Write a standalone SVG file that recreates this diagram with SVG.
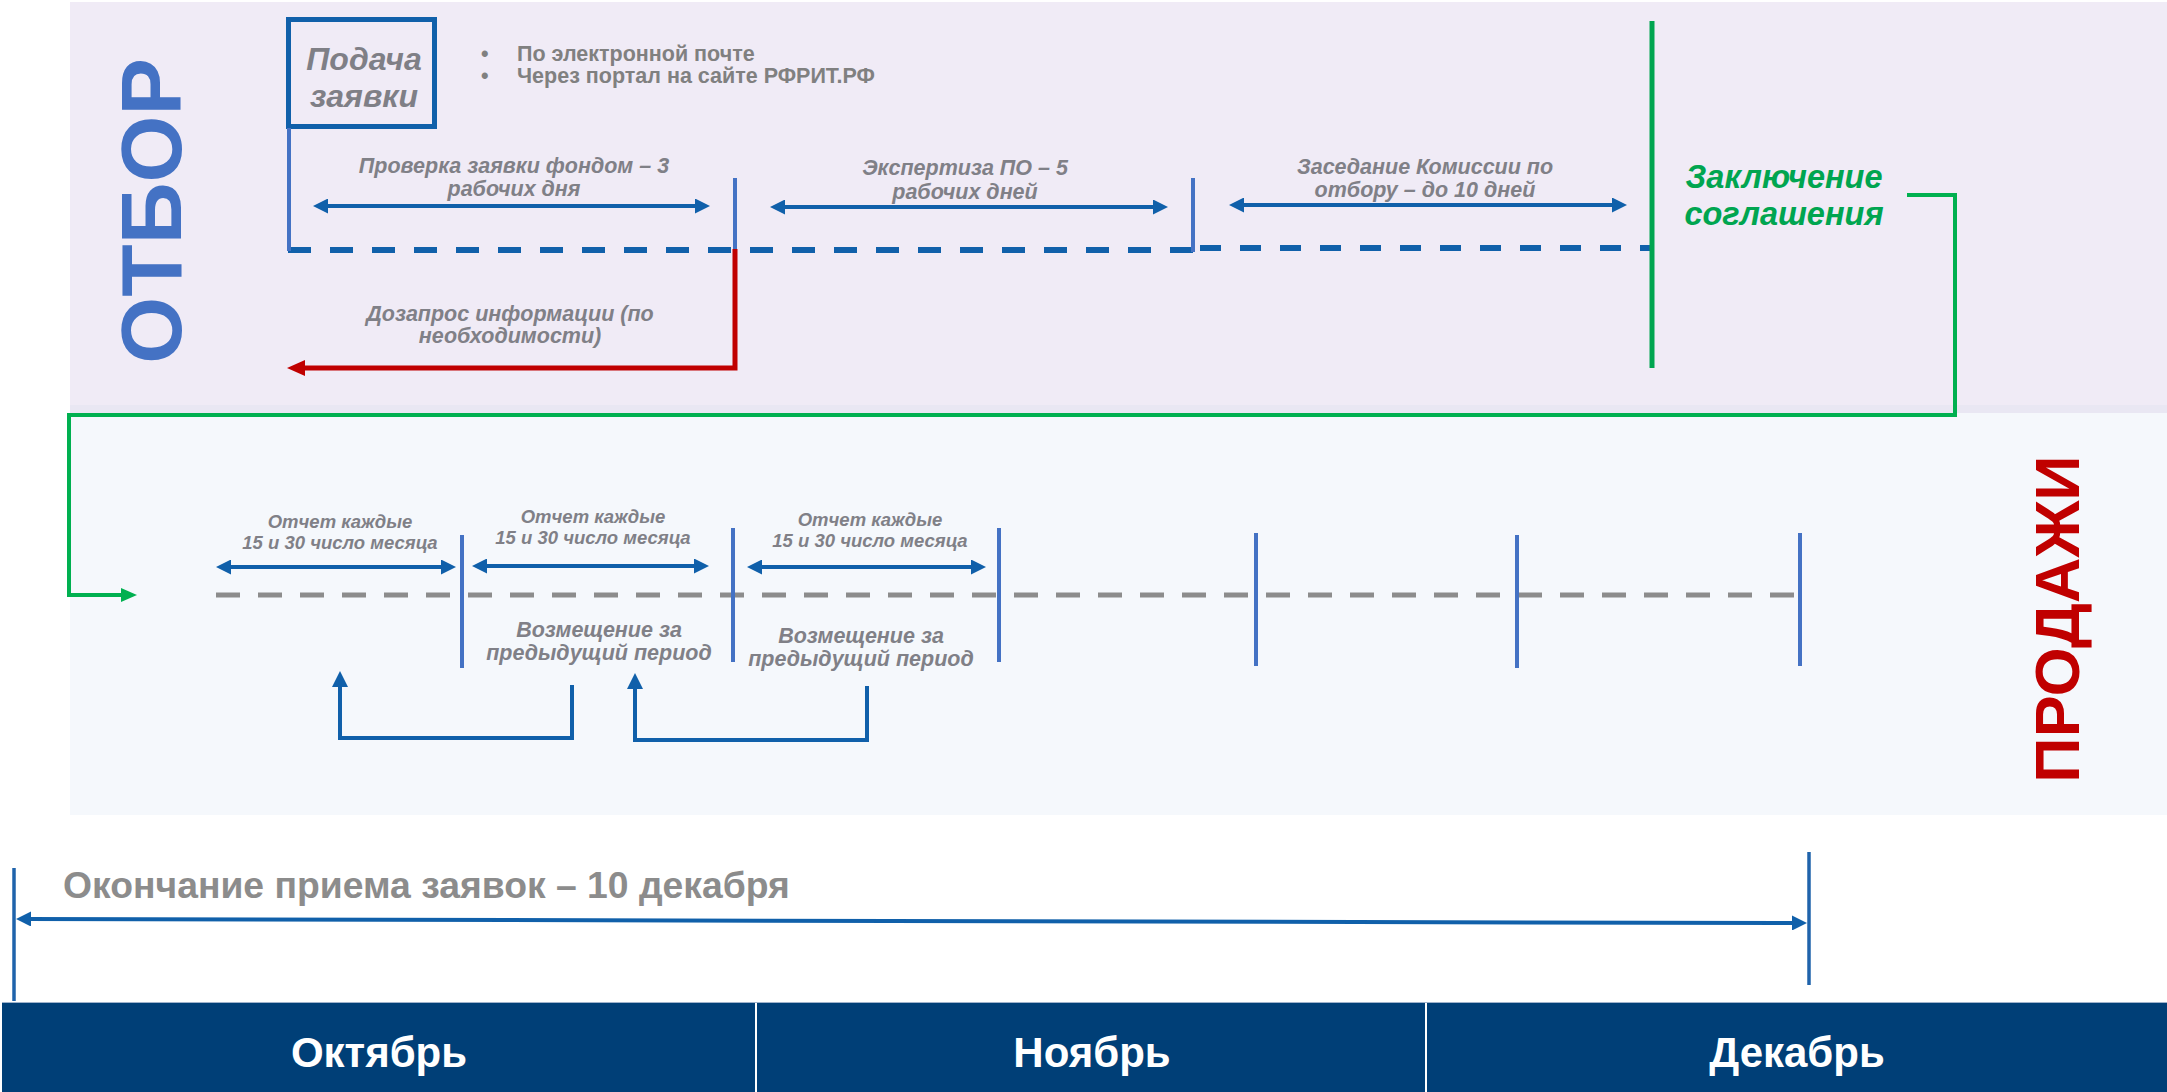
<svg xmlns="http://www.w3.org/2000/svg" width="2167" height="1092" viewBox="0 0 2167 1092">
<style>
text{font-family:"Liberation Sans",Arial,sans-serif;font-weight:bold}
.lbl{font-style:italic;fill:#808087;font-size:21.5px;text-anchor:middle}
.sm{font-size:18.5px}
.bul{fill:#808080;font-size:21.5px}
.tick{stroke:#4472C4;stroke-width:4;fill:none}
.arr{stroke:#1060AA;stroke-width:4;fill:none}
.month{fill:#FFFFFF;font-size:42px;text-anchor:middle}
</style>
<defs>
<marker id="bh" viewBox="0 0 15 15" refX="5" refY="7.5" markerWidth="15" markerHeight="15" markerUnits="userSpaceOnUse" orient="auto-start-reverse"><path d="M0,0 L15,7.5 L0,15 Z" fill="#1060AA"/></marker>
<marker id="bh2" viewBox="0 0 16 16" refX="6" refY="8" markerWidth="16" markerHeight="16" markerUnits="userSpaceOnUse" orient="auto-start-reverse"><path d="M0,0 L16,8 L0,16 Z" fill="#1060AA"/></marker>
<marker id="rh" viewBox="0 0 18 16" refX="6" refY="8" markerWidth="18" markerHeight="16" markerUnits="userSpaceOnUse" orient="auto"><path d="M0,0 L18,8 L0,16 Z" fill="#C00000"/></marker>
<marker id="gh" viewBox="0 0 16 14" refX="6" refY="7" markerWidth="16" markerHeight="14" markerUnits="userSpaceOnUse" orient="auto"><path d="M0,0 L16,7 L0,14 Z" fill="#00B050"/></marker>
</defs>
<rect width="2167" height="1092" fill="#FFFFFF"/>
<g id="panel-otbor">
<rect x="70" y="2" width="2097" height="403" fill="#F0EBF6"/>
<rect x="70" y="405" width="2097" height="8" fill="#E9E7F3"/>
<text transform="translate(181,211) rotate(-90)" font-size="86" fill="#4472C4" text-anchor="middle">ОТБОР</text>
</g>
<g id="panel-prodazhi">
<rect x="70" y="413" width="2097" height="402" fill="#F5F8FC"/>
<text transform="translate(2079,619) rotate(-90)" font-size="63" fill="#C00000" text-anchor="middle">ПРОДАЖИ</text>
</g>
<g id="node-podacha">
<rect x="288.5" y="19.5" width="146" height="107" fill="none" stroke="#1060AA" stroke-width="5"/>
<text x="364" y="70" font-size="32" font-style="italic" fill="#7F7F86" text-anchor="middle">Подача</text>
<text x="364" y="107" font-size="32" font-style="italic" fill="#7F7F86" text-anchor="middle">заявки</text>
</g>
<g id="node-ways">
<text class="bul" x="481" y="61">•</text>
<text class="bul" x="517" y="61">По электронной почте</text>
<text class="bul" x="481" y="83">•</text>
<text class="bul" x="517" y="83">Через портал на сайте РФРИТ.РФ</text>
</g>
<g id="node-proverka">
<text class="lbl" x="514" y="173">Проверка заявки фондом – 3</text>
<text class="lbl" x="514" y="196">рабочих дня</text>
</g>
<g id="node-ekspertiza">
<text class="lbl" x="965" y="175">Экспертиза ПО – 5</text>
<text class="lbl" x="965" y="199">рабочих дней</text>
</g>
<g id="node-zasedanie">
<text class="lbl" x="1425" y="174">Заседание Комиссии по</text>
<text class="lbl" x="1425" y="197">отбору – до 10 дней</text>
</g>
<g id="node-dozapros">
<text class="lbl" x="510" y="321">Дозапрос информации (по</text>
<text class="lbl" x="510" y="343">необходимости)</text>
</g>
<g id="node-zakl">
<text x="1784" y="188" font-size="32.5" font-style="italic" fill="#00A550" text-anchor="middle">Заключение</text>
<text x="1784" y="225" font-size="32.5" font-style="italic" fill="#00A550" text-anchor="middle">соглашения</text>
</g>
<g id="node-otchet">
<text class="lbl sm" x="340" y="528">Отчет каждые</text>
<text class="lbl sm" x="340" y="549">15 и 30 число месяца</text>
<text class="lbl sm" x="593" y="523">Отчет каждые</text>
<text class="lbl sm" x="593" y="544">15 и 30 число месяца</text>
<text class="lbl sm" x="870" y="526">Отчет каждые</text>
<text class="lbl sm" x="870" y="547">15 и 30 число месяца</text>
</g>
<g id="node-vozm">
<text class="lbl" x="599" y="637">Возмещение за</text>
<text class="lbl" x="599" y="660">предыдущий период</text>
<text class="lbl" x="861" y="643">Возмещение за</text>
<text class="lbl" x="861" y="666">предыдущий период</text>
</g>
<g id="node-okonchanie">
<text x="63" y="898" font-size="37.3" fill="#8C8C8C">Окончание приема заявок – 10 декабря</text>
</g>
<g id="node-months">
<rect x="2" y="1002" width="2165" height="90" fill="#003F77"/>
<line x1="2" y1="1002.5" x2="2167" y2="1002.5" stroke="#9FB3CC" stroke-width="1"/>
<line x1="756" y1="1003" x2="756" y2="1092" stroke="#FFFFFF" stroke-width="2"/>
<line x1="1426" y1="1003" x2="1426" y2="1092" stroke="#FFFFFF" stroke-width="2"/>
<text class="month" x="379" y="1067">Октябрь</text>
<text class="month" x="1092" y="1067">Ноябрь</text>
<text class="month" x="1797" y="1067">Декабрь</text>
</g>
<g id="connectors">
<path d="M288,250 H1193" stroke="#1060AA" stroke-width="6" stroke-dasharray="23 19" fill="none"/>
<path d="M1200,248 H1652" stroke="#1060AA" stroke-width="6" stroke-dasharray="21 19" fill="none"/>
<line class="tick" x1="289" y1="128" x2="289" y2="251"/>
<line class="tick" x1="735" y1="178" x2="735" y2="250"/>
<line class="tick" x1="1193" y1="178" x2="1193" y2="252"/>
<line x1="1652" y1="21" x2="1652" y2="368" stroke="#00A550" stroke-width="5"/>
<line class="arr" x1="323" y1="206" x2="700" y2="206" marker-start="url(#bh)" marker-end="url(#bh)"/>
<line class="arr" x1="780" y1="207" x2="1158" y2="207" marker-start="url(#bh)" marker-end="url(#bh)"/>
<line class="arr" x1="1239" y1="205" x2="1617" y2="205" marker-start="url(#bh)" marker-end="url(#bh)"/>
<path d="M735,249 V368 H299" stroke="#C00000" stroke-width="5" fill="none" marker-end="url(#rh)"/>
<path d="M1907,195 H1955 V415 H69 V595 H127" stroke="#00B050" stroke-width="4" fill="none" marker-end="url(#gh)"/>
<path d="M216,595 H1795" stroke="#8C8C8C" stroke-width="5" stroke-dasharray="24 18" fill="none"/>
<line class="tick" x1="462" y1="535" x2="462" y2="668"/>
<line class="tick" x1="733" y1="528" x2="733" y2="662"/>
<line class="tick" x1="999" y1="528" x2="999" y2="662"/>
<line class="tick" x1="1256" y1="533" x2="1256" y2="666"/>
<line class="tick" x1="1517" y1="535" x2="1517" y2="668"/>
<line class="tick" x1="1800" y1="533" x2="1800" y2="666"/>
<line class="arr" x1="226" y1="567" x2="446" y2="567" marker-start="url(#bh)" marker-end="url(#bh)"/>
<line class="arr" x1="482" y1="566" x2="699" y2="566" marker-start="url(#bh)" marker-end="url(#bh)"/>
<line class="arr" x1="757" y1="567" x2="976" y2="567" marker-start="url(#bh)" marker-end="url(#bh)"/>
<path class="arr" d="M572,685 V738 H340 V681" marker-end="url(#bh2)"/>
<path class="arr" d="M867,686 V740 H635 V683" marker-end="url(#bh2)"/>
<line x1="14" y1="868" x2="14" y2="1001" stroke="#1F63AB" stroke-width="3.5"/>
<line x1="1809" y1="852" x2="1809" y2="985" stroke="#1F63AB" stroke-width="3.5"/>
<line class="arr" x1="26" y1="919" x2="1797" y2="923" marker-start="url(#bh)" marker-end="url(#bh)"/>
</g>
</svg>
